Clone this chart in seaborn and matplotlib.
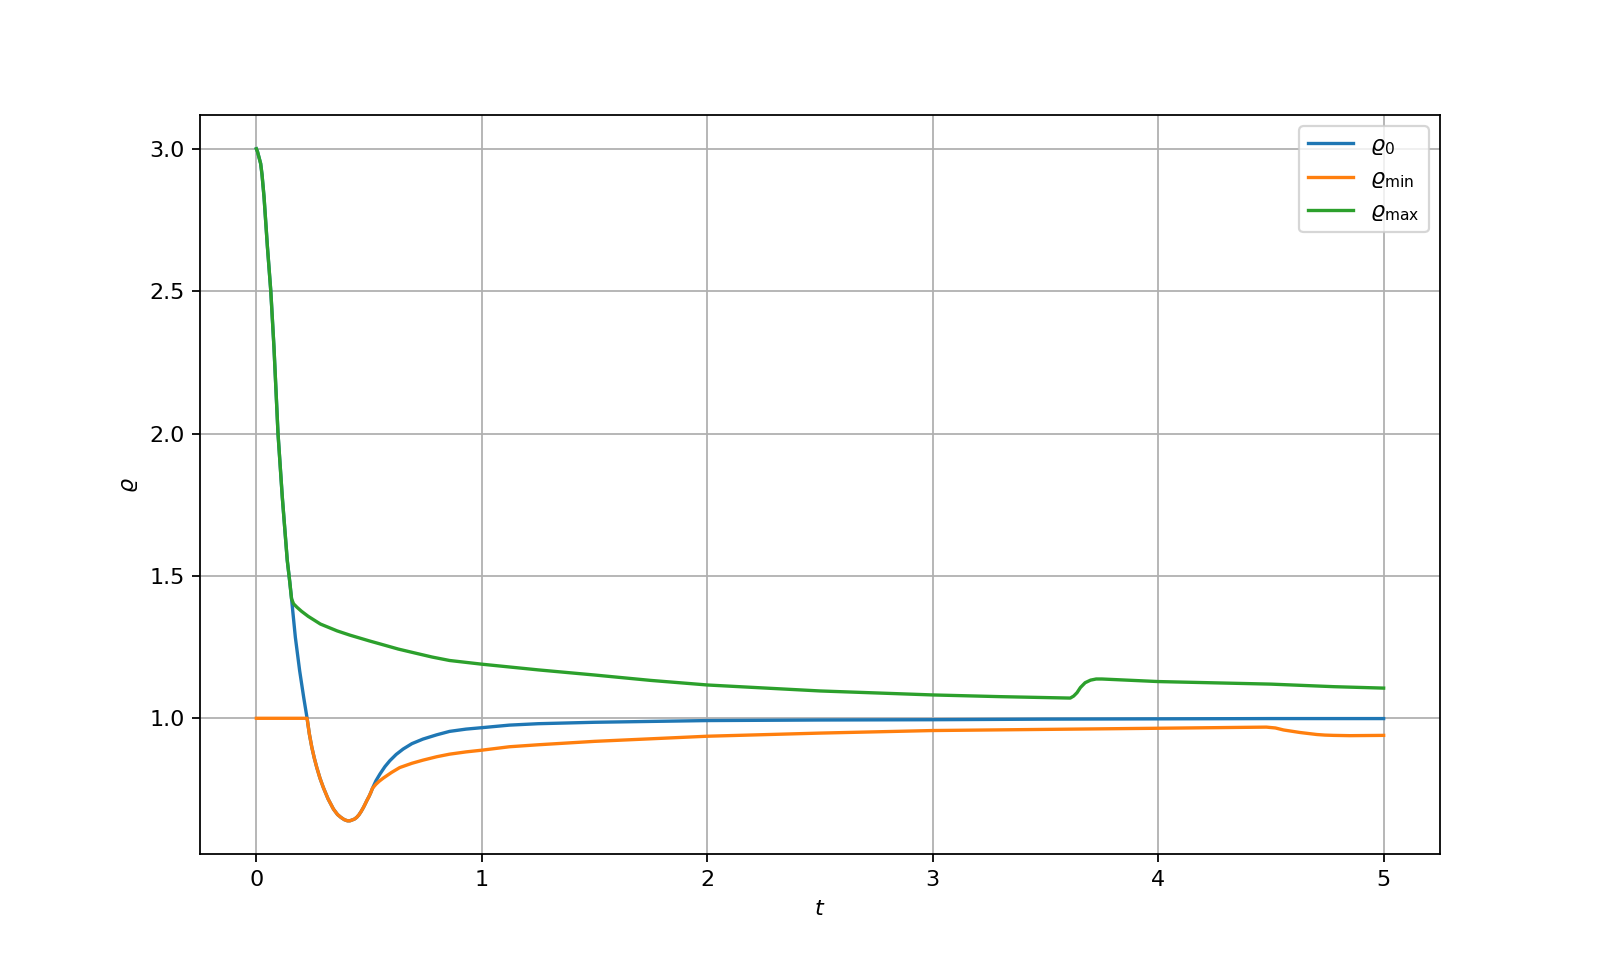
import matplotlib
matplotlib.use("Agg")
import matplotlib.pyplot as plt
import seaborn as sns

# rho_0 (blue)
t_0 = [0, 0.005, 0.01, 0.015, 0.019, 0.025, 0.034, 0.049, 0.064, 0.078, 0.096, 0.115,
       0.137, 0.148, 0.156, 0.173, 0.192, 0.21, 0.225, 0.235, 0.246, 0.257, 0.268,
       0.282, 0.297, 0.318, 0.342, 0.36, 0.375, 0.39, 0.404, 0.415, 0.425, 0.435, 0.445,
       0.455, 0.465, 0.475, 0.482, 0.49, 0.5, 0.508, 0.515, 0.53, 0.548, 0.57, 0.592,
       0.62, 0.651, 0.69, 0.739, 0.8, 0.857, 0.93, 1.0, 1.122, 1.25, 1.5, 2.0, 2.5, 3.0,
       3.5, 4.0, 4.5, 5.0]
rho_0 = [3.0, 2.99, 2.975, 2.96, 2.948, 2.91, 2.831, 2.656, 2.5, 2.304, 2.0, 1.777,
         1.555, 1.48, 1.42, 1.284, 1.167, 1.073, 1.0, 0.945, 0.898, 0.86, 0.827,
         0.79, 0.757, 0.717, 0.681, 0.662, 0.652, 0.644, 0.64, 0.64, 0.643, 0.646, 0.652,
         0.661, 0.673, 0.687, 0.698, 0.711, 0.726, 0.74, 0.754, 0.78, 0.804, 0.83, 0.851,
         0.873, 0.892, 0.911, 0.927, 0.942, 0.954, 0.962, 0.967, 0.976, 0.981, 0.986,
         0.992, 0.994, 0.995, 0.997, 0.998, 0.999, 0.999]

# rho_min (orange)
t_min = [0, 0.225, 0.235, 0.246, 0.257, 0.268, 0.282, 0.297, 0.318, 0.342, 0.36, 0.375,
         0.39, 0.404, 0.415, 0.425, 0.435, 0.445, 0.455, 0.465, 0.475, 0.482, 0.49, 0.5,
         0.508, 0.515, 0.53, 0.545, 0.563, 0.6, 0.636, 0.69, 0.739, 0.8, 0.857, 0.93, 1.0,
         1.122, 1.25, 1.5, 2.0, 2.5, 3.0, 3.5, 4.0, 4.48, 4.52, 4.556, 4.63, 4.704, 4.74,
         4.778, 4.85, 5.0]
rho_min = [1.0, 1.0, 0.945, 0.898, 0.86, 0.827, 0.79, 0.757, 0.717, 0.681, 0.662, 0.652,
           0.644, 0.64, 0.64, 0.643, 0.646, 0.652, 0.661, 0.673, 0.687, 0.698, 0.711,
           0.726, 0.74, 0.754, 0.768, 0.779, 0.79, 0.81, 0.827, 0.842, 0.853, 0.865, 0.874,
           0.882, 0.888, 0.9, 0.907, 0.919, 0.937, 0.948, 0.957, 0.961, 0.965, 0.969,
           0.966, 0.959, 0.95, 0.943, 0.941, 0.94, 0.939, 0.94]

# rho_max (green)
t_max = [0, 0.005, 0.01, 0.015, 0.019, 0.025, 0.034, 0.049, 0.064, 0.078, 0.096, 0.115,
         0.137, 0.148, 0.156, 0.165, 0.18, 0.2, 0.23, 0.284, 0.358, 0.415, 0.5,
         0.563, 0.63, 0.71, 0.78, 0.857, 1.0, 1.25, 1.5, 1.75, 2.0, 2.5, 3.0, 3.3, 3.61,
         3.625, 3.64, 3.655, 3.676, 3.7, 3.725, 3.75, 4.0, 4.5, 4.78, 5.0]
rho_max = [3.0, 2.99, 2.975, 2.96, 2.948, 2.91, 2.831, 2.656, 2.5, 2.304, 2.0, 1.777,
           1.555, 1.48, 1.42, 1.402, 1.39, 1.376, 1.358, 1.331, 1.307, 1.292, 1.272,
           1.258, 1.243, 1.228, 1.215, 1.203, 1.19, 1.17, 1.152, 1.133, 1.117, 1.096,
           1.082, 1.076, 1.071, 1.078, 1.09, 1.108, 1.125, 1.134, 1.138, 1.138, 1.129,
           1.12, 1.111, 1.106]

labels = [r'$\varrho_0$', r'$\varrho_{\min}$', r'$\varrho_{\max}$']

fig, ax = plt.subplots(figsize=(10, 6), dpi=160)

sns.lineplot(x=t_0, y=rho_0, ax=ax, label=labels[0], color='C0')
sns.lineplot(x=t_min, y=rho_min, ax=ax, label=labels[1], color='C1')
sns.lineplot(x=t_max, y=rho_max, ax=ax, label=labels[2], color='C2')

ax.grid(True)
ax.set_xlabel(r'$t$')
ax.set_ylabel(r'$\varrho$')
ax.legend(loc='upper right')

plt.savefig('out.png', dpi=160)
